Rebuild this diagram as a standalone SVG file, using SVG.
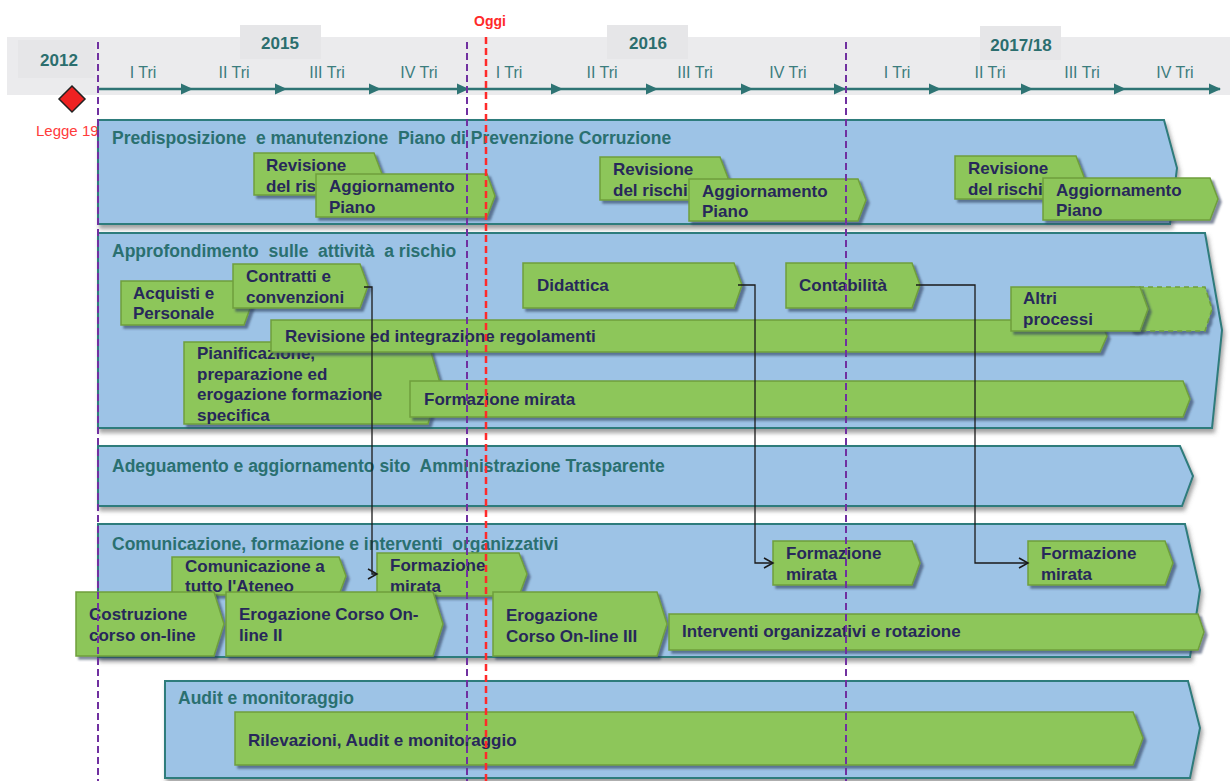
<svg xmlns="http://www.w3.org/2000/svg" width="1230" height="781" viewBox="0 0 1230 781">
<style>
.lane{fill:#9dc3e6;stroke:#2e7b7b;stroke-width:2}
.box{fill:#8dc65a;stroke:#6f9e3c;stroke-width:1.5}
.dash{fill:#8dc65a;stroke:#6f9e3c;stroke-width:1.5;stroke-dasharray:5 4}
.lt{font-family:"Liberation Sans",Arial,sans-serif;font-size:17.5px;font-weight:bold;fill:#2a7070}
.bt{font-family:"Liberation Sans",Arial,sans-serif;font-size:17px;font-weight:bold;fill:#27285a}
.tri{font-family:"Liberation Sans",Arial,sans-serif;font-size:16px;fill:#3b7d7d;text-anchor:middle}
.yr{font-family:"Liberation Sans",Arial,sans-serif;font-size:17px;font-weight:bold;fill:#2b6e6e;text-anchor:middle}
.conn{fill:none;stroke:#1a1a1a;stroke-width:1.3}
.vp{stroke:#7030a0;stroke-width:2;stroke-dasharray:7 4;fill:none}
.vr{stroke:#ff2a2a;stroke-width:2.5;stroke-dasharray:7 4;fill:none}
</style>
<defs>
<filter id="ls" x="-5%" y="-10%" width="110%" height="130%"><feDropShadow dx="2" dy="4" stdDeviation="2" flood-color="#555" flood-opacity="0.55"/></filter>
<filter id="bs" x="-5%" y="-10%" width="110%" height="130%"><feDropShadow dx="3" dy="3" stdDeviation="1" flood-color="#2d3d5c" flood-opacity="0.6"/></filter>
<marker id="oa" markerWidth="12" markerHeight="12" refX="10" refY="6" orient="auto" markerUnits="userSpaceOnUse"><path d="M1,1 L10,6 L1,11" fill="none" stroke="#1a1a1a" stroke-width="1.5"/></marker>
<marker id="ta" markerWidth="12" markerHeight="12" refX="11" refY="6" orient="auto" markerUnits="userSpaceOnUse"><path d="M0,0.5 L12,6 L0,11.5 Z" fill="#2e7474"/></marker>
</defs>

<g id="header">
<rect x="7" y="37" width="1223" height="58" fill="#ebebed"/>
<rect x="18" y="40" width="77" height="38" fill="#e6e6e8"/>
<rect x="240" y="25" width="81" height="34" fill="#e6e6e8"/>
<rect x="607" y="25" width="81" height="34" fill="#e6e6e8"/>
<rect x="980" y="26" width="81" height="34" fill="#e6e6e8"/>
<text class="yr" x="59" y="66">2012</text>
<text class="yr" x="280" y="49">2015</text>
<text class="yr" x="648" y="49">2016</text>
<text class="yr" x="1021" y="51">2017/18</text>
<text class="tri" x="143" y="78">I Tri</text>
<text class="tri" x="234" y="78">II Tri</text>
<text class="tri" x="327" y="78">III Tri</text>
<text class="tri" x="419" y="78">IV Tri</text>
<text class="tri" x="509" y="78">I Tri</text>
<text class="tri" x="602" y="78">II Tri</text>
<text class="tri" x="695" y="78">III Tri</text>
<text class="tri" x="788" y="78">IV Tri</text>
<text class="tri" x="897" y="78">I Tri</text>
<text class="tri" x="990" y="78">II Tri</text>
<text class="tri" x="1082" y="78">III Tri</text>
<text class="tri" x="1175" y="78">IV Tri</text>
<g stroke="#2e7474" stroke-width="2.5" marker-end="url(#ta)">
<line x1="99" y1="89" x2="192" y2="89"/>
<line x1="192" y1="89" x2="286" y2="89"/>
<line x1="286" y1="89" x2="380" y2="89"/>
<line x1="380" y1="89" x2="468" y2="89"/>
<line x1="468" y1="89" x2="562" y2="89"/>
<line x1="562" y1="89" x2="657" y2="89"/>
<line x1="657" y1="89" x2="752" y2="89"/>
<line x1="752" y1="89" x2="845" y2="89"/>
<line x1="845" y1="89" x2="940" y2="89"/>
<line x1="940" y1="89" x2="1032" y2="89"/>
<line x1="1032" y1="89" x2="1125" y2="89"/>
<line x1="1125" y1="89" x2="1220" y2="89"/>
</g>
<text x="490" y="26" text-anchor="middle" font-family="'Liberation Sans',Arial,sans-serif" font-size="14" font-weight="bold" fill="#ff2a2a">Oggi</text>
</g>

<g id="legge19">
<path d="M72,86 L85,99 L72,112 L59,99 Z" fill="#ee2222" stroke="#222" stroke-width="1.5"/>
<text x="36" y="136" font-family="'Liberation Sans',Arial,sans-serif" font-size="15" fill="#ff3b3b">Legge 19</text>
</g>

<g id="lane1">
<path class="lane" filter="url(#ls)" d="M98,120 H1164 L1177,168 L1170,224 H98 Z"/>
<text class="lt" x="112" y="144" xml:space="preserve">Predisposizione  e manutenzione  Piano di Prevenzione Corruzione</text>
</g>
<g id="lane2">
<path class="lane" filter="url(#ls)" d="M98,233 H1205 L1222,330 L1212,428 H98 Z"/>
<text class="lt" x="112" y="257" xml:space="preserve">Approfondimento  sulle  attività  a rischio</text>
</g>
<g id="lane3">
<path class="lane" filter="url(#ls)" d="M98,446 H1180 L1193,476 L1182,506 H98 Z"/>
<text class="lt" x="112" y="472" xml:space="preserve">Adeguamento e aggiornamento sito  Amministrazione Trasparente</text>
</g>
<g id="lane4">
<path class="lane" filter="url(#ls)" d="M98,524 H1185 L1200,590 L1190,657 H98 Z"/>
<text class="lt" x="112" y="550" xml:space="preserve">Comunicazione, formazione e interventi  organizzativi</text>
</g>
<g id="lane5">
<path class="lane" filter="url(#ls)" d="M165,681 H1188 L1200,728 L1190,778 H165 Z"/>
<text class="lt" x="178" y="704">Audit e monitoraggio</text>
</g>

<!-- lane 1 boxes -->
<g id="rev1"><path class="box" filter="url(#bs)" d="M254,153 H374 L382,174 L374,195 H254 Z"/><text class="bt" x="266" y="171">Revisione</text><text class="bt" x="266" y="192">del ris</text></g>
<g id="agg1"><path class="box" filter="url(#bs)" d="M316,174 H487 L495,196 L487,217 H316 Z"/><text class="bt" x="329" y="192">Aggiornamento</text><text class="bt" x="329" y="213">Piano</text></g>
<g id="rev2"><path class="box" filter="url(#bs)" d="M600,157 H720 L728,178 L720,200 H600 Z"/><text class="bt" x="613" y="175">Revisione</text><text class="bt" x="613" y="196">del rischi</text></g>
<g id="agg2"><path class="box" filter="url(#bs)" d="M689,179 H858 L866,200 L858,221 H689 Z"/><text class="bt" x="702" y="197">Aggiornamento</text><text class="bt" x="702" y="217">Piano</text></g>
<g id="rev3"><path class="box" filter="url(#bs)" d="M955,156 H1076 L1084,177 L1076,199 H955 Z"/><text class="bt" x="968" y="174">Revisione</text><text class="bt" x="968" y="195">del rischi</text></g>
<g id="agg3"><path class="box" filter="url(#bs)" d="M1043,178 H1210 L1218,199 L1210,220 H1043 Z"/><text class="bt" x="1056" y="196">Aggiornamento</text><text class="bt" x="1056" y="216">Piano</text></g>

<!-- lane 2 boxes -->
<g id="acquisti"><path class="box" filter="url(#bs)" d="M121,281 H244 L252,303 L244,325 H121 Z"/><text class="bt" x="133" y="299">Acquisti e</text><text class="bt" x="133" y="319">Personale</text></g>
<g id="contratti"><path class="box" filter="url(#bs)" d="M233,264 H360 L368,286 L360,308 H233 Z"/><text class="bt" x="246" y="282">Contratti e</text><text class="bt" x="246" y="303">convenzioni</text></g>
<g id="didattica"><path class="box" filter="url(#bs)" d="M523,263 H734 L742,285 L734,308 H523 Z"/><text class="bt" x="537" y="291">Didattica</text></g>
<g id="contabilita"><path class="box" filter="url(#bs)" d="M786,263 H912 L920,285 L912,308 H786 Z"/><text class="bt" x="799" y="291">Contabilità</text></g>
<g id="pianificazione"><path class="box" filter="url(#bs)" d="M184,342 H428 L440,383 L428,424 H184 Z"/><text class="bt" x="197" y="359">Pianificazione,</text><text class="bt" x="197" y="380">preparazione ed</text><text class="bt" x="197" y="400">erogazione formazione</text><text class="bt" x="197" y="421">specifica</text></g>
<g id="revisione-reg"><path class="box" filter="url(#bs)" d="M271,320 H1100 L1107,336 L1100,352 H271 Z"/><text class="bt" x="285" y="342">Revisione ed integrazione regolamenti</text></g>
<g id="altri"><path class="dash" filter="url(#bs)" d="M1130,287 H1205 L1212,309 L1205,331 H1130 Z"/><path class="box" filter="url(#bs)" d="M1011,287 H1140 L1148,309 L1140,331 H1011 Z"/><text class="bt" x="1023" y="304">Altri</text><text class="bt" x="1023" y="325">processi</text></g>
<g id="formazione-mirata-2"><path class="box" filter="url(#bs)" d="M410,381 H1183 L1190,399 L1183,417 H410 Z"/><text class="bt" x="424" y="405">Formazione mirata</text></g>

<!-- lane 4 boxes -->
<g id="comunicazione"><path class="box" filter="url(#bs)" d="M172,557 H339 L346,576 L339,595 H172 Z"/><text class="bt" x="185" y="572">Comunicazione a</text><text class="bt" x="185" y="592">tutto l'Ateneo</text></g>
<g id="fm-a"><path class="box" filter="url(#bs)" d="M377,553 H519 L527,574 L519,596 H377 Z"/><text class="bt" x="390" y="571">Formazione</text><text class="bt" x="390" y="592">mirata</text></g>
<g id="fm-b"><path class="box" filter="url(#bs)" d="M773,541 H912 L920,563 L912,585 H773 Z"/><text class="bt" x="786" y="559">Formazione</text><text class="bt" x="786" y="580">mirata</text></g>
<g id="fm-c"><path class="box" filter="url(#bs)" d="M1028,541 H1165 L1173,563 L1165,585 H1028 Z"/><text class="bt" x="1041" y="559">Formazione</text><text class="bt" x="1041" y="580">mirata</text></g>
<g id="costruzione"><path class="box" filter="url(#bs)" d="M76,592 H214 L224,624 L214,656 H76 Z"/><text class="bt" x="89" y="620">Costruzione</text><text class="bt" x="89" y="641">corso on-line</text></g>
<g id="erog2"><path class="box" filter="url(#bs)" d="M226,592 H433 L443,624 L433,656 H226 Z"/><text class="bt" x="239" y="620">Erogazione Corso On-</text><text class="bt" x="239" y="641">line II</text></g>
<g id="erog3"><path class="box" filter="url(#bs)" d="M493,592 H657 L667,624 L657,656 H493 Z"/><text class="bt" x="506" y="621">Erogazione</text><text class="bt" x="506" y="642">Corso On-line III</text></g>
<g id="interventi"><path class="box" filter="url(#bs)" d="M669,614 H1198 L1204,632 L1198,650 H669 Z"/><text class="bt" x="682" y="637">Interventi organizzativi e rotazione</text></g>

<!-- lane 5 -->
<g id="rilevazioni"><path class="box" filter="url(#bs)" d="M235,712 H1133 L1143,738 L1133,765 H235 Z"/><text class="bt" x="248" y="746">Rilevazioni, Audit e monitoraggio</text></g>

<g id="connectors">
<path class="conn" marker-end="url(#oa)" d="M364,287 H372 V574 H377"/>
<path class="conn" marker-end="url(#oa)" d="M738,285 H755 V563 H773"/>
<path class="conn" marker-end="url(#oa)" d="M916,285 H975 V563 H1028"/>
</g>

<g id="markers">
<line class="vp" x1="98" y1="42" x2="98" y2="781"/>
<line class="vp" x1="467" y1="42" x2="467" y2="781"/>
<line class="vp" x1="846" y1="42" x2="846" y2="781"/>
<line class="vr" x1="486" y1="37" x2="486" y2="781"/>
</g>
</svg>
